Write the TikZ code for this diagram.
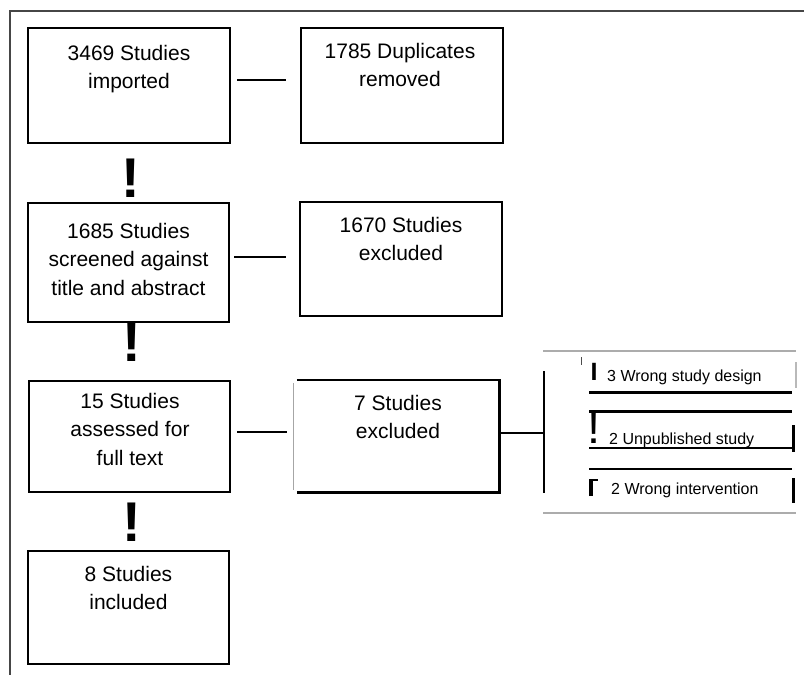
\documentclass[tikz,border=0pt]{standalone}
\usepackage{fontspec}
\setmainfont{Liberation Sans}
\begin{document}
\begin{tikzpicture}[x=1pt,y=-1pt,
  box/.style={draw=black,line width=2.6pt,minimum width=#1,inner sep=0pt},
  boxtext/.style={anchor=north,align=center,inner sep=0pt,font=\fontsize{21}{28.5}\selectfont},
  conn/.style={line width=2.6pt,draw=black},
  bang/.style={inner sep=0pt,font=\fontsize{56}{56}\selectfont\bfseries},
  reason/.style={anchor=base west,inner sep=0pt,font=\fontsize{16}{18}\selectfont},
  rule/.style={line width=#1,draw=black},
  faint/.style={draw=gray!65,line width=1.4pt}]
\useasboundingbox (0,0) rectangle (804,675);
% outer frame
\draw[draw=gray!55!black,line width=1.5pt] (10,675) -- (10,11) -- (804,11);
% boxes
\node[box=202pt,minimum height=115pt] (b1) at (129,85.5) {};
\node[box=202pt,minimum height=115pt] (b2) at (402,85.5) {};
\node[box=201pt,minimum height=119pt] (b3) at (128.5,262.5) {};
\node[box=202pt,minimum height=114pt] (b4) at (401,259) {};
\node[box=201pt,minimum height=111pt] (b5) at (129.5,436.5) {};
\node[minimum width=205pt,minimum height=112pt,inner sep=0pt] (b6) at (396.5,436) {};
\node[box=201pt,minimum height=113pt] (b7) at (128.5,607.5) {};
% box 6: thin grey left side, heavy other sides
\draw[draw=gray!70,line width=1pt] ([yshift=-3pt]b6.north west) -- ([yshift=2pt]b6.south west);
\draw[line width=2.6pt] ([xshift=3pt]b6.north west) -- (b6.north east) -- (b6.south east) -- ([xshift=3pt]b6.south west);
% texts
\node[boxtext] (t1) at (129,45) {3469 Studies\\imported};
\node[boxtext] (t2) at (400,43) {1785 Duplicates\\removed};
\node[boxtext] (t3) at (128.5,223) {1685 Studies\\screened against\\title and abstract};
\node[boxtext] (t4) at (401,217) {1670 Studies\\excluded};
\node[boxtext] (t5) at (130,393) {15 Studies\\assessed for\\full text};
\node[boxtext] (t6) at (398,395) {7 Studies\\excluded};
\node[boxtext] (t7) at (128.5,566) {8 Studies\\included};
% exclamation marks between the stacked boxes
\node[bang] (e1) at (131,178) {!};
\node[bang] (e2) at (132,342.5) {!};
\node[bang] (e3) at (131.5,522.5) {!};
% horizontal connectors
\draw[conn,shorten <=6pt,shorten >=14pt] (b1.east |- 0,80) -- (b2.west |- 0,80);
\draw[conn,shorten <=4pt,shorten >=13pt] (b3.east |- 0,257) -- (b4.west |- 0,257);
\draw[conn,shorten <=6pt,shorten >=7pt] (b5.east |- 0,432) -- (b6.west |- 0,432);
\coordinate (bar) at (544,433);
\coordinate (bartop) at (544,371);
\coordinate (barbot) at (544,493);
\draw[conn] (b6.east |- bar) -- (bar);
\draw[conn] (bartop) -- (barbot);
% right-hand panel
\coordinate (pnw) at (543,351);
\coordinate (pne) at (796,351);
\coordinate (psw) at (543,513);
\coordinate (pse) at (796,513);
\draw[faint] (pnw) -- (pne);
\draw[faint] (psw) -- (pse);
\draw[draw=gray!60!black,line width=0.8pt] (581,357) -- (581,365);
\node[inner sep=0pt,font=\fontsize{25}{25}\selectfont\bfseries] (g1) at (594,372) {I};
\draw[rule=3pt] (589,392) -- (792,392);
\draw[rule=3pt] (589,411) -- (792,411);
\node[inner sep=0pt,font=\fontsize{47}{47}\selectfont] (g2) at (594.5,427) {!};
\draw[rule=2pt] (589,448) -- (792,448);
\draw[rule=2pt] (589,469) -- (792,469);
\draw[line width=4pt] (591,496) -- (591,479);
\draw[line width=2.5pt] (589,480.2) -- (598,480.2);
\node[reason] (r1) at (607,381) {3 Wrong study design};
\node[reason] (r2) at (609,444) {2 Unpublished study};
\node[reason] (r3) at (611,494) {2 Wrong intervention};
\draw[draw=gray!55,line width=2pt] (796,362) -- (796,388);
\draw[line width=3.5pt] (793.5,425) -- (793.5,452);
\draw[line width=3.5pt] (793.5,478) -- (793.5,503);
\end{tikzpicture}
\end{document}
